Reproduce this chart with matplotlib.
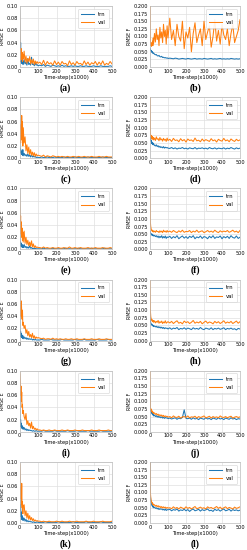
import matplotlib.pyplot as plt

# time-step samples (x1000)
steps = [0, 2, 4, 6, 8, 10, 12, 14, 16, 18, 20,
         25, 30, 35, 40, 45, 50, 55, 60, 65, 70, 75, 80, 85, 90, 95, 100,
         110, 120, 130, 140, 150, 160, 170, 180, 190, 200,
         210, 220, 230, 240, 250, 260, 270, 280, 290, 300,
         310, 320, 330, 340, 350, 360, 370, 380, 390, 400,
         410, 420, 430, 440, 450, 460, 470, 480, 490, 500]

# all errors below are in units of 1e-3
a_trn = [100, 30, 12, 40, 8, 22, 6, 15, 5, 10, 4,
         12, 5, 8, 3, 14, 4, 6, 3, 16, 4, 5, 2, 7, 3, 4, 2,
         3, 2, 4, 1, 3, 2, 1, 3, 2, 1, 2, 1, 3, 1, 2, 1, 1, 2, 1, 2,
         1, 1, 2, 1, 1, 2, 1, 1, 1, 2, 1, 1, 1, 2, 1, 1, 1, 1, 2, 1]
a_val = [100, 25, 10, 28, 14, 30, 12, 24, 9, 20, 13,
         26, 8, 18, 6, 14, 9, 17, 5, 12, 6, 13, 4, 10, 5, 9, 6,
         8, 4, 11, 3, 9, 5, 7, 3, 10, 4, 8, 3, 9, 5, 6, 2, 10, 4, 7, 3,
         9, 5, 6, 3, 10, 4, 8, 3, 7, 5, 9, 3, 8, 4, 10, 3, 6, 4, 9, 5]
b_trn = [62, 58, 55, 52, 54, 49, 47, 50, 45, 44, 46,
         42, 40, 41, 37, 36, 38, 34, 33, 35, 31, 32, 30, 31, 29, 30, 28,
         29, 28, 27, 29, 28, 26, 27, 28, 27, 26, 28, 27, 26, 27, 28, 26, 27, 27, 26, 28,
         27, 26, 27, 28, 26, 27, 26, 27, 28, 26, 27, 26, 27, 26, 28, 27, 26, 27, 26, 27]
b_val = [200, 75, 70, 80, 68, 76, 72, 85, 70, 95, 78,
         110, 82, 125, 90, 105, 70, 130, 95, 115, 80, 140, 100, 120, 75, 135, 95,
         160, 90, 120, 70, 140, 100, 85, 150, 60, 115, 95, 130, 50, 110, 145, 80, 105, 125, 70, 150,
         90, 115, 135, 65, 100, 155, 85, 120, 75, 140, 105, 90, 125, 70, 110, 140, 80, 100, 120, 155]
c_trn = [100, 20, 10, 15, 8, 12, 6, 10, 5, 14, 4,
         8, 4, 6, 3, 7, 3, 5, 2, 6, 2, 3, 2, 3, 1, 2, 1,
         1, 2, 1, 1, 2, 1, 1, 1, 2, 1, 1, 1, 1, 2, 1, 1, 1, 1, 1, 2,
         1, 1, 1, 1, 1, 1, 2, 1, 1, 1, 1, 1, 1, 1, 2, 1, 1, 1, 1, 1]
c_val = [100, 35, 45, 25, 55, 30, 70, 40, 60, 20, 50,
         25, 35, 12, 22, 8, 18, 6, 14, 5, 10, 4, 9, 3, 7, 4, 5,
         4, 3, 5, 2, 4, 3, 2, 4, 3, 2, 3, 2, 3, 2, 2, 3, 2, 2, 3, 2,
         2, 3, 2, 2, 3, 2, 2, 2, 3, 2, 2, 2, 3, 2, 2, 2, 3, 2, 2, 2]
d_trn = [80, 72, 60, 55, 58, 48, 52, 45, 50, 44, 47,
         42, 40, 44, 38, 41, 36, 39, 35, 37, 34, 38, 33, 36, 34, 35, 33,
         32, 35, 31, 34, 30, 33, 32, 35, 31, 33, 30, 34, 32, 31, 35, 30, 33, 32, 34, 31,
         33, 30, 35, 32, 31, 34, 30, 33, 32, 31, 34, 30, 33, 31, 35, 32, 30, 34, 31, 33]
d_val = [200, 82, 70, 75, 65, 72, 62, 70, 64, 68, 60,
         66, 58, 70, 62, 64, 57, 68, 60, 63, 56, 65, 59, 62, 55, 66, 58,
         62, 55, 65, 58, 60, 54, 64, 57, 61, 53, 63, 58, 60, 55, 66, 57, 59, 54, 63, 56,
         61, 58, 55, 64, 57, 60, 53, 62, 58, 56, 65, 57, 60, 54, 63, 58, 55, 62, 57, 60]
e_trn = [100, 15, 8, 12, 5, 10, 4, 8, 3, 6, 3,
         8, 3, 5, 2, 4, 2, 6, 2, 3, 1, 2, 1, 2, 1, 1, 1,
         1, 1, 2, 1, 1, 1, 1, 2, 1, 1, 1, 1, 1, 1, 2, 1, 1, 1, 1, 1,
         1, 2, 1, 1, 1, 1, 1, 1, 2, 1, 1, 1, 1, 1, 1, 2, 1, 1, 1, 1]
e_val = [100, 70, 40, 55, 25, 45, 20, 35, 15, 28, 12,
         30, 10, 20, 8, 15, 6, 12, 5, 14, 4, 9, 3, 6, 3, 4, 3,
         3, 2, 4, 2, 3, 2, 2, 3, 2, 2, 3, 2, 2, 3, 2, 2, 4, 2, 2, 3,
         2, 2, 3, 2, 2, 2, 3, 2, 2, 2, 3, 2, 2, 2, 3, 2, 2, 2, 3, 2]
f_trn = [60, 55, 52, 50, 48, 51, 46, 49, 45, 47, 44,
         46, 42, 45, 40, 44, 38, 43, 39, 45, 37, 42, 38, 44, 36, 41, 39,
         43, 36, 42, 38, 45, 35, 40, 44, 37, 42, 36, 43, 39, 45, 35, 41, 38, 44, 36, 42,
         40, 35, 43, 38, 45, 36, 41, 39, 44, 35, 42, 38, 43, 36, 45, 39, 37, 44, 36, 40]
f_val = [200, 90, 75, 68, 64, 62, 60, 63, 58, 61, 57,
         60, 56, 62, 58, 59, 55, 61, 57, 60, 55, 63, 58, 60, 56, 62, 57,
         60, 56, 62, 58, 55, 61, 57, 63, 56, 59, 58, 62, 55, 60, 57, 63, 56, 59, 61, 55,
         58, 62, 57, 60, 56, 63, 58, 55, 61, 57, 60, 58, 62, 56, 59, 63, 57, 60, 55, 62]
g_trn = [100, 20, 10, 15, 6, 12, 5, 9, 4, 8, 3,
         6, 3, 5, 2, 4, 2, 3, 2, 3, 1, 2, 1, 2, 1, 1, 1,
         1, 2, 1, 1, 1, 1, 2, 1, 1, 1, 1, 1, 2, 1, 1, 1, 1, 1, 1, 2,
         1, 1, 1, 1, 2, 1, 1, 1, 1, 1, 1, 2, 1, 1, 1, 1, 1, 2, 1, 1]
g_val = [100, 50, 60, 40, 55, 65, 45, 35, 50, 25, 30,
         20, 25, 12, 18, 8, 15, 6, 10, 5, 12, 4, 8, 3, 6, 4, 5,
         4, 3, 4, 2, 3, 3, 2, 4, 2, 3, 2, 3, 2, 2, 3, 2, 2, 3, 2, 2,
         3, 2, 2, 2, 3, 2, 2, 2, 3, 2, 2, 2, 3, 2, 2, 2, 3, 2, 2, 2]
h_trn = [100, 65, 58, 55, 52, 54, 50, 51, 48, 50, 46,
         48, 45, 47, 43, 46, 42, 45, 41, 44, 40, 43, 39, 42, 40, 41, 38,
         42, 37, 41, 39, 43, 36, 40, 38, 42, 37, 41, 39, 36, 42, 38, 40, 37, 43, 38, 36,
         41, 39, 37, 42, 36, 40, 38, 41, 37, 39, 42, 36, 40, 38, 41, 37, 39, 35, 40, 38]
h_val = [200, 100, 80, 72, 68, 70, 64, 67, 62, 66, 60,
         65, 58, 63, 60, 66, 57, 62, 59, 64, 56, 61, 58, 65, 57, 60, 62,
         58, 63, 56, 61, 65, 57, 60, 55, 64, 59, 62, 56, 60, 66, 57, 61, 58, 63, 55, 60,
         64, 57, 61, 59, 55, 63, 58, 62, 56, 60, 65, 57, 61, 58, 63, 56, 60, 64, 57, 62]
i_trn = [100, 30, 15, 20, 8, 14, 6, 10, 5, 8, 4,
         7, 3, 5, 2, 4, 2, 3, 2, 2, 1, 2, 1, 1, 2, 1, 1,
         1, 1, 2, 1, 1, 1, 1, 1, 2, 1, 1, 1, 1, 1, 1, 2, 1, 1, 1, 1,
         2, 1, 1, 1, 1, 1, 2, 1, 1, 1, 1, 1, 1, 2, 1, 1, 1, 1, 1, 1]
i_val = [100, 95, 80, 60, 75, 50, 65, 40, 45, 30, 35,
         25, 20, 30, 12, 18, 10, 14, 6, 16, 5, 9, 4, 6, 3, 5, 3,
         3, 2, 3, 2, 2, 3, 2, 2, 3, 2, 2, 2, 3, 2, 2, 3, 2, 2, 2, 3,
         2, 2, 2, 3, 2, 2, 2, 2, 3, 2, 2, 2, 3, 2, 2, 2, 2, 3, 2, 2]
j_trn = [120, 75, 68, 70, 62, 65, 58, 60, 55, 57, 52,
         55, 50, 53, 48, 52, 47, 50, 46, 49, 45, 48, 44, 47, 45, 46, 43,
         45, 42, 44, 46, 41, 45, 43, 47, 72, 44, 43, 45, 41, 46, 42, 44, 40, 45, 43, 41,
         46, 42, 44, 40, 45, 43, 41, 46, 42, 44, 40, 45, 43, 41, 46, 42, 44, 40, 43, 42]
j_val = [200, 80, 72, 75, 68, 70, 65, 67, 62, 64, 60,
         62, 57, 60, 55, 58, 53, 56, 52, 55, 50, 54, 49, 52, 50, 51, 48,
         50, 46, 52, 48, 47, 51, 45, 49, 50, 47, 52, 46, 49, 48, 51, 45, 50, 47, 49, 52,
         46, 48, 51, 45, 50, 47, 49, 46, 52, 48, 47, 50, 46, 49, 51, 45, 48, 50, 47, 49]
k_trn = [100, 40, 20, 30, 10, 18, 6, 12, 5, 9, 4,
         8, 3, 6, 2, 4, 2, 3, 2, 2, 1, 2, 1, 1, 1, 2, 1,
         1, 1, 1, 2, 1, 1, 1, 1, 1, 1, 2, 1, 1, 1, 1, 1, 1, 1, 2, 1,
         1, 1, 1, 1, 1, 2, 1, 1, 1, 1, 1, 1, 1, 2, 1, 1, 1, 1, 1, 1]
k_val = [100, 95, 55, 40, 60, 30, 65, 25, 35, 15, 28,
         30, 12, 20, 8, 16, 6, 12, 5, 9, 4, 7, 3, 5, 3, 4, 3,
         3, 2, 3, 2, 2, 3, 2, 2, 2, 3, 2, 2, 3, 2, 2, 2, 3, 2, 2, 2,
         3, 2, 2, 2, 2, 3, 2, 2, 2, 3, 2, 2, 2, 2, 3, 2, 2, 2, 2, 3]
l_trn = [200, 90, 75, 68, 62, 60, 56, 58, 52, 54, 50,
         52, 48, 50, 46, 49, 44, 47, 45, 46, 43, 45, 42, 46, 41, 44, 43,
         45, 40, 44, 42, 46, 39, 43, 41, 45, 40, 44, 38, 43, 46, 40, 42, 45, 39, 44, 41,
         43, 46, 40, 42, 38, 45, 41, 44, 39, 43, 46, 40, 42, 45, 39, 44, 41, 43, 40, 42]
l_val = [200, 100, 85, 75, 70, 68, 64, 66, 60, 62, 58,
         60, 55, 58, 53, 57, 52, 55, 50, 54, 49, 53, 50, 52, 48, 51, 49,
         50, 47, 53, 48, 51, 46, 52, 49, 47, 53, 48, 51, 46, 50, 54, 47, 49, 52, 48, 50,
         46, 53, 49, 51, 47, 50, 54, 48, 52, 46, 50, 53, 47, 51, 49, 46, 52, 48, 50, 53]

panels = [("(a)", a_trn, a_val), ("(b)", b_trn, b_val),
          ("(c)", c_trn, c_val), ("(d)", d_trn, d_val),
          ("(e)", e_trn, e_val), ("(f)", f_trn, f_val),
          ("(g)", g_trn, g_val), ("(h)", h_trn, h_val),
          ("(i)", i_trn, i_val), ("(j)", j_trn, j_val),
          ("(k)", k_trn, k_val), ("(l)", l_trn, l_val)]

W, H = 247, 550
fig = plt.figure(figsize=(W / 100, H / 100), dpi=100)

for n, (lab, trn, val) in enumerate(panels):
    row, col = n // 2, n % 2
    top = 6 + 91.2 * row
    hgt = 61
    if col == 0:
        x0, w = 19.5, 92.5
    else:
        x0, w = 150, 90
    ax = fig.add_axes([x0 / W, 1 - (top + hgt) / H, w / W, hgt / H])
    ax.plot(steps, [v / 1000 for v in trn], color='#1f77b4', lw=0.75, label='trn')
    ax.plot(steps, [v / 1000 for v in val], color='#ff7f0e', lw=0.75, label='val')
    ax.set_xlim(0, 500)
    ax.set_xticks([0, 100, 200, 300, 400, 500])
    if col == 0:
        ax.set_ylim(0, 0.1)
        ax.set_yticks([0, 0.02, 0.04, 0.06, 0.08, 0.10])
        ax.set_yticklabels(['0.00', '0.02', '0.04', '0.06', '0.08', '0.10'])
        ax.set_ylabel('RMSE E', fontsize=3.3, labelpad=1)
    else:
        ax.set_ylim(0, 0.2)
        yt = [0, 0.025, 0.05, 0.075, 0.1, 0.125, 0.15, 0.175, 0.2]
        ax.set_yticks(yt)
        ax.set_yticklabels(['%.3f' % t for t in yt])
        ax.set_ylabel('RMSE F', fontsize=3.3, labelpad=1)
    ax.set_xlabel('Time-step(x1000)', fontsize=3.7, labelpad=0.8)
    ax.tick_params(labelsize=3.6, length=0, pad=1.2)
    ax.grid(True, color='#e0e0e0', lw=0.5)
    ax.set_axisbelow(True)
    for s in ax.spines.values():
        s.set_color('#bbbbbb')
        s.set_linewidth(0.5)
    leg = ax.legend(loc='upper right', fontsize=3.8, handlelength=2.4,
                    borderpad=0.6, labelspacing=0.6, framealpha=0.9)
    leg.get_frame().set_linewidth(0.4)
    leg.get_frame().set_edgecolor('#cccccc')
    fig.text((x0 + w / 2) / W, 1 - (top + hgt + 21) / H, lab, ha='center', va='center',
             fontsize=7, fontweight='bold', family='Liberation Serif')

fig.savefig('out.png', dpi=100)
